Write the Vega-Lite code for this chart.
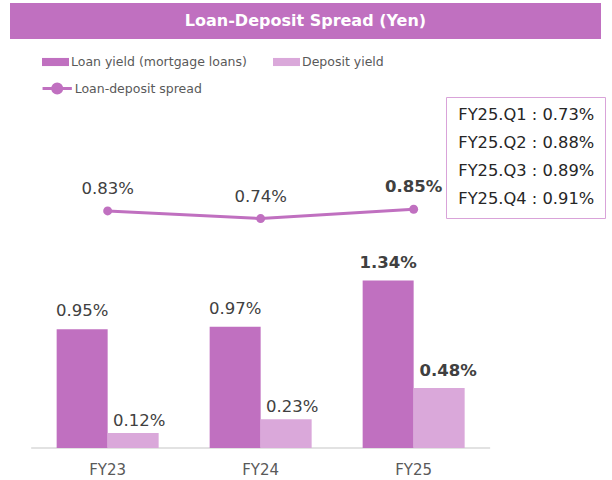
{
  "$schema": "https://vega.github.io/schema/vega-lite/v6.json",
  "padding": {"left": 10, "top": 3, "right": 0, "bottom": 0},
  "spacing": 8,
  "bounds": "full",
  "config": {
    "font": "DejaVu Sans",
    "view": {"stroke": null},
    "background": "#FFFFFF"
  },
  "datasets": {
    "yields": [
      {"year": "FY23", "series": "Loan yield (mortgage loans)", "value": 0.0095},
      {"year": "FY23", "series": "Deposit yield", "value": 0.0012},
      {"year": "FY24", "series": "Loan yield (mortgage loans)", "value": 0.0097},
      {"year": "FY24", "series": "Deposit yield", "value": 0.0023},
      {"year": "FY25", "series": "Loan yield (mortgage loans)", "value": 0.0134},
      {"year": "FY25", "series": "Deposit yield", "value": 0.0048}
    ],
    "spread": [
      {"year": "FY23", "spread": 0.0083},
      {"year": "FY24", "spread": 0.0074},
      {"year": "FY25", "spread": 0.0085}
    ],
    "quarters": [
      {"quarter": "FY25.Q1", "spread": 0.0073, "label": "FY25.Q1 : 0.73%"},
      {"quarter": "FY25.Q2", "spread": 0.0088, "label": "FY25.Q2 : 0.88%"},
      {"quarter": "FY25.Q3", "spread": 0.0089, "label": "FY25.Q3 : 0.89%"},
      {"quarter": "FY25.Q4", "spread": 0.0091, "label": "FY25.Q4 : 0.91%"}
    ]
  },
  "vconcat": [
    {
      "width": 591,
      "height": 36,
      "view": {"fill": "#C070C0", "stroke": null},
      "data": {"values": [{"title": "Loan-Deposit Spread (Yen)"}]},
      "mark": {"type": "text", "color": "#FFFFFF", "fontSize": 16, "fontWeight": "bold", "baseline": "middle", "align": "center"},
      "encoding": {"text": {"field": "title"}}
    },
    {
      "width": 480,
      "height": 401,
      "resolve": {"scale": {"y": "independent"}},
      "encoding": {
        "x": {
          "field": "year",
          "type": "nominal",
          "scale": {"domain": ["FY23", "FY24", "FY25"], "paddingInner": 0.3333, "paddingOuter": 0.2353, "align": 0.648},
          "axis": {
            "title": null,
            "labelAngle": 0,
            "labelFontSize": 15,
            "labelColor": "#595959",
            "labelPadding": 14.5,
            "ticks": false,
            "grid": false,
            "domain": false
          }
        }
      },
      "layer": [
        {
          "data": {"values": [{}]},
          "mark": {"type": "rule", "color": "#D9D9D9", "strokeWidth": 1.5, "xOffset": -25.5, "x2Offset": 25.5},
          "encoding": {
            "x": {"datum": "FY23", "bandPosition": 0},
            "x2": {"datum": "FY25", "bandPosition": 1},
            "y": {"datum": 0, "type": "quantitative", "scale": {"domain": [0, 0.03208], "nice": false, "zero": false}, "axis": null}
          }
        },
        {
          "data": {"name": "yields"},
          "mark": {"type": "bar"},
          "encoding": {
            "xOffset": {"field": "series", "type": "nominal", "scale": {"domain": ["Loan yield (mortgage loans)", "Deposit yield"], "paddingInner": 0, "paddingOuter": 0}},
            "y": {
              "field": "value",
              "type": "quantitative",
              "scale": {"domain": [0, 0.03208], "nice": false, "zero": false},
              "axis": null
            },
            "color": {
              "field": "series",
              "type": "nominal",
              "scale": {"domain": ["Loan yield (mortgage loans)", "Deposit yield"], "range": ["#C070C0", "#DAA8DA"]},
              "legend": {
                "orient": "none",
                "legendX": 32,
                "legendY": 45.5,
                "direction": "horizontal",
                "columns": 2,
                "title": null,
                "symbolType": "M-1,-0.3H1V0.3H-1Z",
                "symbolSize": 729,
                "symbolStrokeWidth": 0,
                "labelFontSize": 12.5,
                "labelColor": "#595959",
                "labelOffset": 2,
                "labelLimit": 300,
                "columnPadding": 26,
                "padding": 0
              }
            }
          }
        },
        {
          "data": {"name": "yields"},
          "transform": [{"filter": "datum.series === 'Loan yield (mortgage loans)' && datum.year !== 'FY25'"}],
          "mark": {"type": "text", "fontSize": 16.5, "color": "#404040", "baseline": "middle", "dy": -18},
          "encoding": {
            "xOffset": {"field": "series", "type": "nominal"},
            "y": {"field": "value", "type": "quantitative", "scale": {"domain": [0, 0.03208], "nice": false, "zero": false}, "axis": null},
            "text": {"field": "value", "type": "quantitative", "format": ".2%"}
          }
        },
        {
          "data": {"name": "yields"},
          "transform": [{"filter": "datum.series === 'Loan yield (mortgage loans)' && datum.year === 'FY25'"}],
          "mark": {"type": "text", "fontSize": 16.5, "fontWeight": "bold", "color": "#404040", "baseline": "middle", "dy": -17.5},
          "encoding": {
            "xOffset": {"field": "series", "type": "nominal"},
            "y": {"field": "value", "type": "quantitative", "scale": {"domain": [0, 0.03208], "nice": false, "zero": false}, "axis": null},
            "text": {"field": "value", "type": "quantitative", "format": ".2%"}
          }
        },
        {
          "data": {"name": "yields"},
          "transform": [{"filter": "datum.series === 'Deposit yield' && datum.year !== 'FY25'"}],
          "mark": {"type": "text", "fontSize": 16.5, "color": "#404040", "baseline": "middle", "dy": -12, "dx": 6},
          "encoding": {
            "xOffset": {"field": "series", "type": "nominal"},
            "y": {"field": "value", "type": "quantitative", "scale": {"domain": [0, 0.03208], "nice": false, "zero": false}, "axis": null},
            "text": {"field": "value", "type": "quantitative", "format": ".2%"}
          }
        },
        {
          "data": {"name": "yields"},
          "transform": [{"filter": "datum.series === 'Deposit yield' && datum.year === 'FY25'"}],
          "mark": {"type": "text", "fontSize": 16.5, "fontWeight": "bold", "color": "#404040", "baseline": "middle", "dy": -17.5, "dx": 9},
          "encoding": {
            "xOffset": {"field": "series", "type": "nominal"},
            "y": {"field": "value", "type": "quantitative", "scale": {"domain": [0, 0.03208], "nice": false, "zero": false}, "axis": null},
            "text": {"field": "value", "type": "quantitative", "format": ".2%"}
          }
        },
        {
          "data": {"name": "spread"},
          "mark": {"type": "line", "strokeWidth": 3},
          "encoding": {
            "y": {"field": "spread", "type": "quantitative", "scale": {"domain": [-0.01961, 0.0276], "nice": false, "zero": false}, "axis": null},
            "stroke": {
              "datum": "Loan-deposit spread",
              "scale": {"range": ["#C070C0"]},
              "legend": {
                "orient": "none",
                "legendX": 30.7,
                "legendY": 69,
                "title": null,
                "symbolType": "M-1,0H-0.31A0.31,0.31 0 1 1 0.31,0A0.31,0.31 0 1 1 -0.31,0M0.31,0H1",
                "symbolSize": 858,
                "symbolStrokeWidth": 3,
                "symbolFillColor": "#C070C0",
                "labelFontSize": 12.5,
                "labelColor": "#595959",
                "labelOffset": 1,
                "labelLimit": 300,
                "padding": 0
              }
            }
          }
        },
        {
          "data": {"name": "spread"},
          "mark": {"type": "point", "filled": true, "size": 80, "color": "#C070C0", "opacity": 1},
          "encoding": {
            "y": {"field": "spread", "type": "quantitative", "scale": {"domain": [-0.01961, 0.0276], "nice": false, "zero": false}, "axis": null}
          }
        },
        {
          "data": {"name": "spread"},
          "transform": [{"filter": "datum.year !== 'FY25'"}],
          "mark": {"type": "text", "fontSize": 16.5, "color": "#404040", "baseline": "middle", "dy": -21.5},
          "encoding": {
            "y": {"field": "spread", "type": "quantitative", "scale": {"domain": [-0.01961, 0.0276], "nice": false, "zero": false}, "axis": null},
            "text": {"field": "spread", "type": "quantitative", "format": ".2%"}
          }
        },
        {
          "data": {"name": "spread"},
          "transform": [{"filter": "datum.year === 'FY25'"}],
          "mark": {"type": "text", "fontSize": 16.5, "fontWeight": "bold", "color": "#404040", "baseline": "middle", "dy": -22.5},
          "encoding": {
            "y": {"field": "spread", "type": "quantitative", "scale": {"domain": [-0.01961, 0.0276], "nice": false, "zero": false}, "axis": null},
            "text": {"field": "spread", "type": "quantitative", "format": ".2%"}
          }
        },
        {
          "data": {"name": "quarters"},
          "mark": {"type": "point", "opacity": 0},
          "encoding": {
            "x": {"datum": "FY24"},
            "y": {"datum": 0, "type": "quantitative", "scale": {"domain": [-0.01961, 0.0276], "nice": false, "zero": false}, "axis": null},
            "shape": {
              "field": "label",
              "type": "nominal",
              "legend": {
                "orient": "none",
                "legendX": 436,
                "legendY": 94,
                "title": null,
                "symbolSize": 0,
                "symbolOpacity": 0,
                "labelOffset": -14,
                "labelFontSize": 16.3,
                "labelColor": "#262626",
                "labelLimit": 300,
                "rowPadding": 11,
                "padding": 10,
                "strokeColor": "#D9A3D9",
                "encode": {"legend": {"update": {"strokeDash": {"value": [1.5, 1.5]}}}}
              }
            }
          }
        }
      ]
    }
  ]
}
